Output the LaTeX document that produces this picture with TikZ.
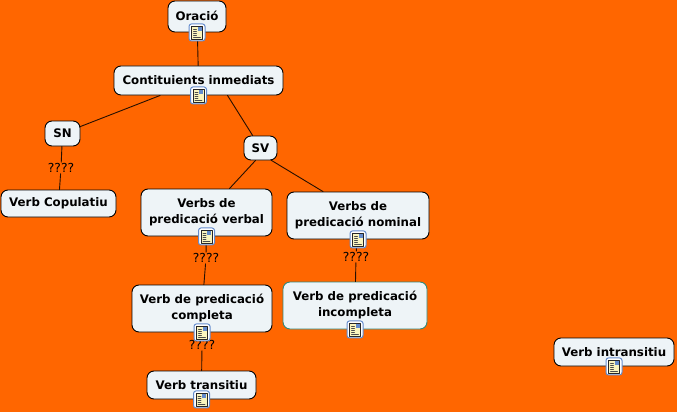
\documentclass[tikz,border=0pt]{standalone}
\usepackage{fontspec}
\setmainfont{DejaVu Sans}
\usetikzlibrary{calc}
\definecolor{MapOrange}{RGB}{255, 102, 0}
\definecolor{BoxFill}{RGB}{238, 244, 247}
\definecolor{BoxTeal}{RGB}{50, 135, 120}
\definecolor{IconBlue}{RGB}{100, 140, 205}
\definecolor{IconPage}{RGB}{250, 245, 190}
\tikzset{
    every path/.style={line cap=round, line join=round},
    concept/.style={draw=black, fill=BoxFill, line width=0.9pt, rounded corners=7pt, align=center, inner sep=0pt, font=\fontsize{11.8}{16}\selectfont\bfseries},
    linklabel/.style={fill=MapOrange, inner sep=1pt, font=\fontsize{12.4}{14}\selectfont},
    connector/.style={draw=black!85!MapOrange, line width=0.9pt},
    iconbox/.style={draw=IconBlue, fill=white, line width=1pt, rounded corners=2.5pt, minimum width=16pt, minimum height=17pt, inner sep=0pt}
}
\newcommand{\noteicon}[2]{
    \node [iconbox] (#2) at (#1) {};
    \fill [IconPage] ($(#2)+(-5.5,-6.5)$) rectangle ($(#2)+(5.5,6.5)$);
    \draw [black!85, line width=0.7pt] ($(#2)+(-5.5,-6.5)$) rectangle ($(#2)+(5.5,6.5)$);
    \fill [IconBlue] ($(#2)+(0.5,-5.5)$) rectangle ($(#2)+(4.5,-1)$);
    \foreach \rowy in {-3,-1,1,3}
        \draw [black!70, line width=0.6pt] ($(#2)+(-3.5,\rowy)$) -- ($(#2)+(-0.5,\rowy)$);
    \draw [black!70, line width=0.6pt] ($(#2)+(-3.5,4.5)$) -- ($(#2)+(3.5,4.5)$);
}
\begin{document}
\begin{tikzpicture}[x=1pt, y=-1pt]
    \useasboundingbox [fill=MapOrange] (0,0) rectangle (677,412);
    \node [concept, minimum width=58pt, minimum height=31pt] (oracio) at (197,16.5) {\raisebox{1.5pt}{Oració}};
    \node [concept, minimum width=169pt, minimum height=29pt] (immediats) at (198.5,80.5) {\raisebox{1pt}{Contituients inmediats}};
    \node [concept, minimum width=35pt, minimum height=25pt] (sn) at (62.5,133.5) {SN};
    \node [concept, minimum width=33pt, minimum height=24pt] (sv) at (260.5,148) {SV};
    \node [concept, minimum width=115pt, minimum height=27pt] (copulatiu) at (58.5,203.5) {Verb Copulatiu};
    \node [concept, minimum width=131pt, minimum height=47pt] (verbal) at (206.5,212.5) {Verbs de\\predicació verbal};
    \node [concept, minimum width=142pt, minimum height=47pt] (nominal) at (358,215.5) {Verbs de\\predicació nominal};
    \node [concept, minimum width=140pt, minimum height=47pt] (completa) at (202,308.5) {Verb de predicació\\completa};
    \node [concept, draw=BoxTeal, minimum width=144pt, minimum height=47pt] (incompleta) at (355,305.5) {Verb de predicació\\incompleta};
    \node [concept, minimum width=109pt, minimum height=28pt] (transitiu) at (201.5,385) {Verb transitiu};
    \node [concept, minimum width=120pt, minimum height=28pt] (intransitiu) at (614,352) {Verb intransitiu};

    \node [linklabel] (q1) at (61,168) {????};
    \node [linklabel] (q2) at (206,258) {????};
    \node [linklabel] (q3) at (356,257) {????};
    \node [linklabel] (q4) at (202,345) {????};

    \draw [connector] (oracio) -- (immediats);
    \draw [connector] (immediats) -- (sn);
    \draw [connector] ([xshift=29pt]immediats.south) -- (sv);
    \draw [connector] ([xshift=-5pt]sv.south) -- ([xshift=23pt]verbal.north);
    \draw [connector] ([xshift=11pt]sv.south) -- ([xshift=-35pt]nominal.north);
    \draw [connector] (sn) -- (q1) -- (copulatiu);
    \draw [connector] (verbal) -- (q2) -- (completa);
    \draw [connector] (nominal) -- (q3) -- (incompleta);
    \draw [connector] (completa) -- (q4) -- (transitiu);

    \noteicon{oracio.south}{icon1}
    \noteicon{immediats.south}{icon2}
    \noteicon{verbal.south}{icon3}
    \noteicon{nominal.south}{icon4}
    \noteicon{completa.south}{icon5}
    \noteicon{incompleta.south}{icon6}
    \noteicon{transitiu.south}{icon7}
    \noteicon{intransitiu.south}{icon8}
\end{tikzpicture}
\end{document}
